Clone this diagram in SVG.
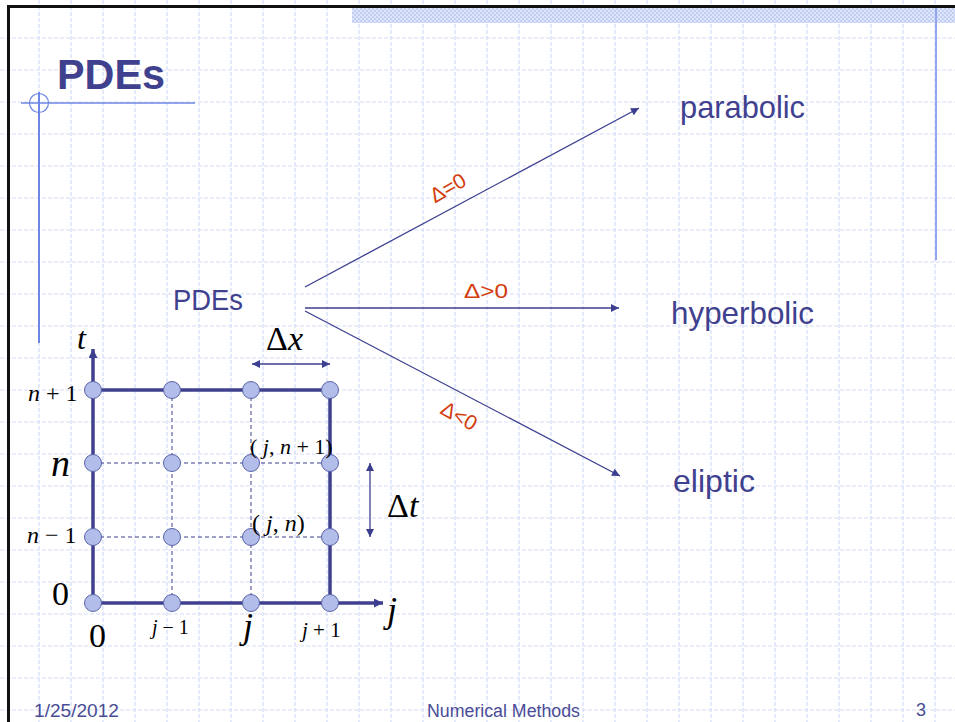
<svg xmlns="http://www.w3.org/2000/svg" width="955" height="722" viewBox="0 0 955 722">
<defs>
<pattern id="chk" x="0" y="0" width="4" height="4" patternUnits="userSpaceOnUse">
<rect width="4" height="4" fill="#dfe6fb"/>
<rect width="2" height="2" fill="#c2cff5"/>
<rect x="2" y="2" width="2" height="2" fill="#c2cff5"/>
</pattern>
<marker id="ah" viewBox="0 0 10 10" refX="10" refY="5" markerWidth="11" markerHeight="8" markerUnits="userSpaceOnUse" orient="auto-start-reverse">
<path d="M0,0 L10,5 L0,10 z" fill="#3c3f8f"/>
</marker>
<marker id="ah2" viewBox="0 0 10 10" refX="10" refY="5" markerWidth="12" markerHeight="9" markerUnits="userSpaceOnUse" orient="auto-start-reverse">
<path d="M0,0 L10,5 L0,10 z" fill="#3c3f8f"/>
</marker>
</defs>
<style>
.grid{stroke:#d3dcfa;stroke-width:1.2;stroke-dasharray:4 2;fill:none}
.blue{font-family:"Liberation Sans",Arial,sans-serif;fill:#3f418f}
.red{font-family:"Liberation Sans",Arial,sans-serif;fill:#d33c0c;font-size:21px}
.m{font-family:"Liberation Serif","Times New Roman",serif;fill:#000}
.it{font-style:italic}
.conn{stroke:#3c3f8f;stroke-width:1.3;fill:none}
.thick{stroke:#3f418f;stroke-width:3.5;fill:none}
.dash{stroke:#3f418f;stroke-width:1;stroke-dasharray:4 3;fill:none}
.node{fill:#b3bde9;stroke:#5a64aa;stroke-width:1}
.foot{font-family:"Liberation Sans",Arial,sans-serif;fill:#4a4c96;font-size:18px}
</style>
<rect width="955" height="722" fill="#ffffff"/>
<g id="background">
<g class="grid">
<path d="M39,0V722M71,0V722M103,0V722M135,0V722M167,0V722M199,0V722M231,0V722M263,0V722M295,0V722M327,0V722M359,0V722M391,0V722M423,0V722M455,0V722M487,0V722M519,0V722M551,0V722M583,0V722M615,0V722M647,0V722M679,0V722M711,0V722M743,0V722M775,0V722M807,0V722M839,0V722M871,0V722M903,0V722M935,0V722"/>
<path d="M0,38H955M0,70H955M0,102H955M0,134H955M0,166H955M0,198H955M0,230H955M0,262H955M0,294H955M0,326H955M0,358H955M0,390H955M0,422H955M0,454H955M0,486H955M0,518H955M0,550H955M0,582H955M0,614H955M0,646H955M0,678H955M0,710H955"/>
</g>
<rect x="352" y="8" width="603" height="15" fill="url(#chk)"/>
<line x1="8" y1="6.5" x2="955" y2="6.5" stroke="#111" stroke-width="3"/>
<line x1="8.5" y1="5" x2="8.5" y2="722" stroke="#111" stroke-width="3"/>
<line x1="936" y1="8" x2="936" y2="260" stroke="#93a5ee" stroke-width="2"/>
<line x1="21" y1="103" x2="195" y2="103" stroke="#6d86e6" stroke-width="1.5"/>
<line x1="39" y1="92" x2="39" y2="343" stroke="#6d86e6" stroke-width="2"/>
<circle cx="39" cy="103" r="9.5" fill="none" stroke="#6d86e6" stroke-width="1.2"/>
</g>
<g id="title">
<text class="blue" x="57" y="89" font-size="42" font-weight="bold" textLength="108" lengthAdjust="spacingAndGlyphs">PDEs</text>
</g>
<g id="pdes">
<text class="blue" x="173" y="310" font-size="29" textLength="70" lengthAdjust="spacingAndGlyphs">PDEs</text>
</g>
<g id="parabolic">
<text class="blue" x="680" y="118" font-size="32" textLength="125" lengthAdjust="spacingAndGlyphs">parabolic</text>
</g>
<g id="hyperbolic">
<text class="blue" x="671" y="324" font-size="32" textLength="143" lengthAdjust="spacingAndGlyphs">hyperbolic</text>
</g>
<g id="eliptic">
<text class="blue" x="673" y="492" font-size="32" textLength="82" lengthAdjust="spacingAndGlyphs">eliptic</text>
</g>
<g id="connectors">
<line class="conn" x1="305" y1="287" x2="639" y2="108" marker-end="url(#ah)"/>
<line class="conn" x1="305" y1="308" x2="619" y2="308" marker-end="url(#ah)"/>
<line class="conn" x1="305" y1="311" x2="620" y2="476" marker-end="url(#ah)"/>
<text class="red" transform="translate(448,188) rotate(-30)" text-anchor="middle" x="0" y="7">Δ=0</text>
<text class="red" x="464" y="298" textLength="44" lengthAdjust="spacingAndGlyphs">Δ&gt;0</text>
<text class="red" transform="translate(459,416) rotate(29)" text-anchor="middle" x="0" y="7">Δ&lt;0</text>
</g>
<g id="mesh">
<g class="dash">
<path d="M93,463H330M93,537H330M172,390V603M251,390V603"/>
</g>
<g class="thick">
<path d="M93,390H330V603"/>
<line x1="93" y1="603" x2="93" y2="349" marker-end="url(#ah2)"/>
<line x1="93" y1="603" x2="383" y2="603" marker-end="url(#ah2)"/>
</g>
<line class="conn" x1="252" y1="364" x2="330" y2="364" marker-start="url(#ah)" marker-end="url(#ah)"/>
<line class="conn" x1="370" y1="463" x2="370" y2="537" marker-start="url(#ah)" marker-end="url(#ah)"/>
<g id="nodes">
<ellipse class="node" cx="93" cy="390" rx="8.5" ry="8.5"/>
<ellipse class="node" cx="172" cy="390" rx="8.5" ry="8.5"/>
<ellipse class="node" cx="251" cy="390" rx="8.5" ry="8.5"/>
<ellipse class="node" cx="330" cy="390" rx="8.5" ry="8.5"/>
<ellipse class="node" cx="93" cy="463" rx="8.5" ry="8.5"/>
<ellipse class="node" cx="172" cy="463" rx="8.5" ry="8.5"/>
<ellipse class="node" cx="251" cy="463" rx="8.5" ry="8.5"/>
<ellipse class="node" cx="330" cy="463" rx="8.5" ry="8.5"/>
<ellipse class="node" cx="93" cy="537" rx="8.5" ry="8.5"/>
<ellipse class="node" cx="172" cy="537" rx="8.5" ry="8.5"/>
<ellipse class="node" cx="251" cy="537" rx="8.5" ry="8.5"/>
<ellipse class="node" cx="330" cy="537" rx="8.5" ry="8.5"/>
<ellipse class="node" cx="93" cy="603" rx="8.5" ry="8.5"/>
<ellipse class="node" cx="172" cy="603" rx="8.5" ry="8.5"/>
<ellipse class="node" cx="251" cy="603" rx="8.5" ry="8.5"/>
<ellipse class="node" cx="330" cy="603" rx="8.5" ry="8.5"/>
</g>
<g id="labels">
<text class="m it" x="77" y="349" font-size="32">t</text>
<text class="m" x="266" y="350" font-size="34">Δ<tspan class="it">x</tspan></text>
<text class="m" x="28" y="401" font-size="24"><tspan class="it">n</tspan> + 1</text>
<text class="m it" x="51" y="476" font-size="38">n</text>
<text class="m" x="27" y="543" font-size="24"><tspan class="it">n</tspan> − 1</text>
<text class="m" x="52" y="605" font-size="34">0</text>
<text class="m" x="89" y="647" font-size="34">0</text>
<text class="m" x="152" y="634" font-size="20"><tspan class="it">j</tspan> − 1</text>
<text class="m it" x="243" y="638" font-size="36">j</text>
<text class="m" x="302" y="637" font-size="21"><tspan class="it">j</tspan> + 1</text>
<text class="m it" x="387" y="622" font-size="36">j</text>
<text class="m" x="387" y="517" font-size="34">Δ<tspan class="it">t</tspan></text>
<text class="m" x="250" y="454" font-size="22">( <tspan class="it">j</tspan>, <tspan class="it">n</tspan> + 1)</text>
<text class="m" x="252" y="531" font-size="24">( <tspan class="it">j</tspan>, <tspan class="it">n</tspan>)</text>
</g>
</g>
<g id="footer">
<text class="foot" x="34" y="717" textLength="85" lengthAdjust="spacingAndGlyphs">1/25/2012</text>
<text class="foot" x="427" y="717" textLength="153" lengthAdjust="spacingAndGlyphs">Numerical Methods</text>
<text class="foot" x="916" y="716">3</text>
</g>
</svg>
